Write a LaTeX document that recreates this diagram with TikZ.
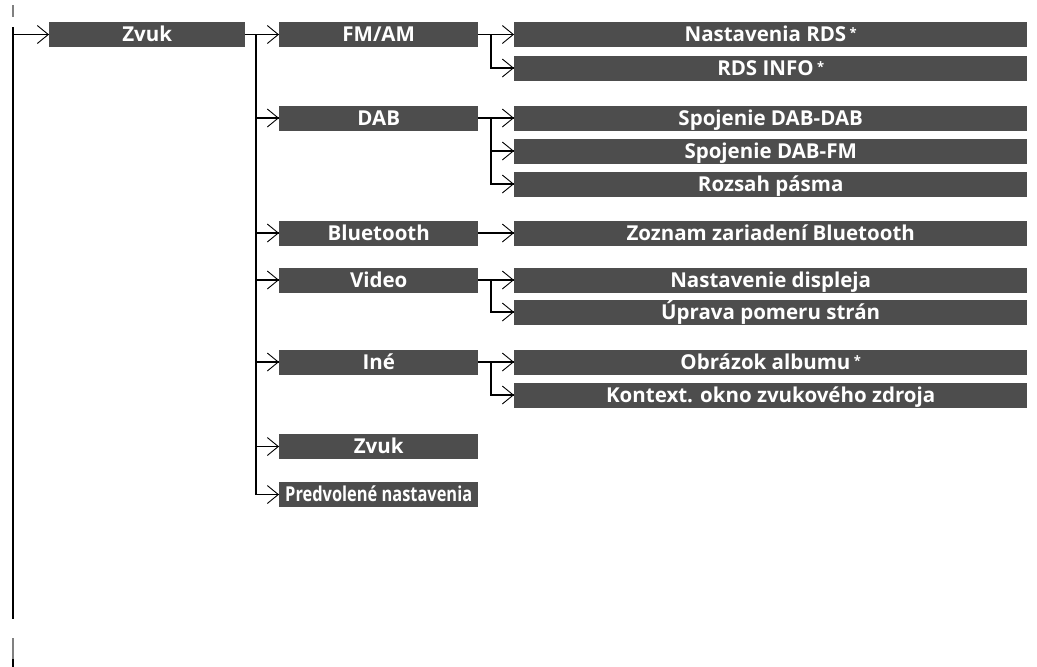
\documentclass[tikz,border=0pt]{standalone}
\usepackage{fontspec}
\setmainfont{Open Sans}
\usepackage{xcolor}
\usepackage{tikz}
\usetikzlibrary{arrows.meta, calc}

\definecolor{boxgray}{HTML}{4D4D4D}
\newcommand{\fnast}{\,\raisebox{4pt}{\fontsize{13}{13}\selectfont *}}

\begin{document}
\begin{tikzpicture}[
    x=1pt, y=-1pt,
    box/.style={fill=boxgray, text=white, font=\bfseries\fontsize{20.5}{20.5}\selectfont, minimum height=25pt, inner sep=0pt, text height=14.6pt, text depth=0pt, anchor=west},
    lvla/.style={box, minimum width=196pt},
    lvlb/.style={box, minimum width=199pt},
    lvlc/.style={box, minimum width=513pt},
    ln/.style={line width=1.6pt, line cap=rect},
    arr/.style={-{Straight Barb[length=11pt, width=18pt, line width=0.9pt]}, line width=1.6pt, line cap=rect}
]
\useasboundingbox (0,0) rectangle (1037,667);

% Left rail
\coordinate (ttop) at (13,5);
\coordinate (tbot) at (13,17);
\coordinate (rtop) at (13,27);
\coordinate (rbot) at (13,619);
\coordinate (btop) at (13,638);
\coordinate (bmid) at (13,659);
\coordinate (bend) at (13,667);
\draw[line width=2pt, gray] (ttop) -- (tbot);
\draw[line width=2pt] (rtop) -- (rbot);
\draw[line width=2pt, gray] (btop) -- (bmid);
\draw[line width=2pt] (bmid) -- (bend);

% Level 1
\node[lvla] (zvuk) at (49,34.5) {Zvuk};
\draw[arr] (rtop |- zvuk.west) -- (zvuk.west);

% Level 2
\node[lvlb] (fmam) at (279,34.5) {FM/AM};
\node[lvlb] (dab) at (279,118) {DAB};
\node[lvlb] (bt) at (279,233) {Bluetooth};
\node[lvlb] (video) at (279,280) {Video};
\node[lvlb] (ine) at (279,362) {Iné};
\node[lvlb] (zvukb) at (279,446.5) {Zvuk};
\node[lvlb] (predv) at (279,494.5) {\scalebox{0.8}[1]{Predvolené nastavenia}};

\coordinate (jb) at (256,34.5);
\draw[ln] (zvuk.east) -- (jb) -- (jb |- predv.west);
\foreach \n in {fmam, dab, bt, video, ine, zvukb, predv}
    \draw[arr] (jb |- \n.west) -- (\n.west);

% Level 3
\node[lvlc] (rds) at (514,34.5) {Nastavenia RDS\fnast};
\node[lvlc] (rdsinfo) at (514,68) {RDS INFO\fnast};
\node[lvlc] (dabdab) at (514,118) {Spojenie DAB-DAB};
\node[lvlc] (dabfm) at (514,151) {Spojenie DAB-FM};
\node[lvlc] (rozsah) at (514,184) {Rozsah pásma};
\node[lvlc] (btlist) at (514,233) {Zoznam zariadení Bluetooth};
\node[lvlc] (disp) at (514,280) {Nastavenie displeja};
\node[lvlc] (pomer) at (514,312) {Úprava pomeru strán};
\node[lvlc] (album) at (514,362) {Obrázok albumu\fnast};
\node[lvlc] (kontext) at (514,395) {Kontext. okno zvukového zdroja};

% FM/AM
\coordinate (jc1) at (491,34.5);
\draw[ln] (fmam.east) -- (jc1) -- (jc1 |- rdsinfo.west);
\foreach \n in {rds, rdsinfo}
    \draw[arr] (jc1 |- \n.west) -- (\n.west);

% DAB
\coordinate (jc2) at (491,118);
\draw[ln] (dab.east) -- (jc2) -- (jc2 |- rozsah.west);
\foreach \n in {dabdab, dabfm, rozsah}
    \draw[arr] (jc2 |- \n.west) -- (\n.west);

% Bluetooth
\draw[arr] (bt.east) -- (btlist.west);

% Video
\coordinate (jc3) at (491,280);
\draw[ln] (video.east) -- (jc3) -- (jc3 |- pomer.west);
\foreach \n in {disp, pomer}
    \draw[arr] (jc3 |- \n.west) -- (\n.west);

% Ine
\coordinate (jc4) at (491,362);
\draw[ln] (ine.east) -- (jc4) -- (jc4 |- kontext.west);
\foreach \n in {album, kontext}
    \draw[arr] (jc4 |- \n.west) -- (\n.west);

\end{tikzpicture}
\end{document}
